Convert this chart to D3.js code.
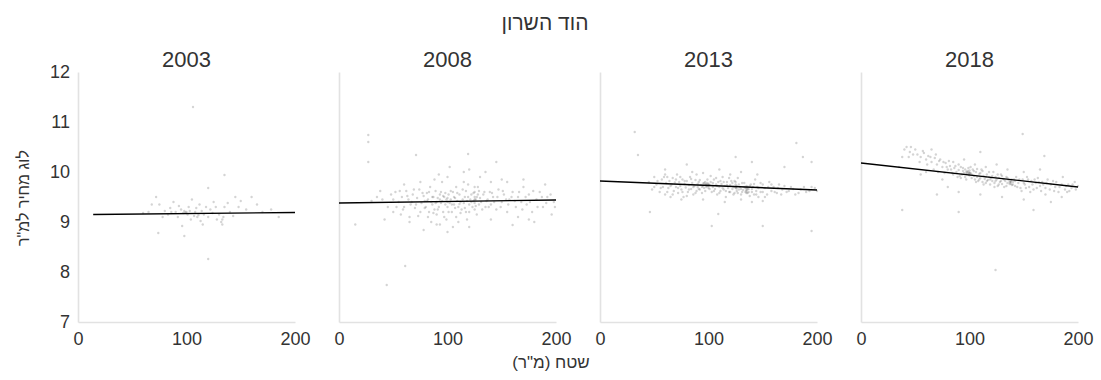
<!DOCTYPE html>
<html><head><meta charset="utf-8">
<script src="https://cdn.jsdelivr.net/npm/d3@7"></script>
<style>
body{margin:0;background:#fff;}
text{font-family:"Liberation Sans",Arial,sans-serif;fill:#333;}
</style></head>
<body><svg id="chart" width="1101" height="380"></svg>
<script>
const mainTitle = "הוד השרון";
const xLabel = "שטח (מ\"ר)";
const yLabel = "לוג מחיר למ\"ר";
const years = ["2003","2008","2013","2018"];
const xTicks = [0,100,200];
const yTicks = [7,8,9,10,11,12];
// regression line endpoints [x0,y0,x1,y1]
const fitLines = [
  [14,9.15,200,9.19],
  [0,9.38,200,9.44],
  [0,9.82,200,9.64],
  [0,10.18,200,9.70]
];
const pts2003 = [[74,8.78],[106,11.3],[120,8.26],[135,9.94],[120,9.68],[72,9.5],[75,9.35],[80,9.22],[83,9.15],[85,9.28],[88,9.4],[90,9.2],[92,9.1],[95,9.25],[97,9.18],[98,9.22],[99,9.19],[100,9.2],[101,9.15],[102,9.3],[104,9.05],[105,9.45],[107,9.12],[108,9.2],[110,9.1],[111,9.14],[112,9.35],[113,9.02],[114,9.22],[115,8.95],[118,9.3],[120,9.1],[122,9.25],[125,9.4],[128,9.05],[130,9.15],[132,9.0],[133,8.95],[133,9.05],[135,9.3],[140,9.2],[145,9.5],[150,9.42],[155,9.25],[160,9.5],[170,9.2],[185,9.1],[65,9.2],[60,9.18],[96,8.92],[98,8.72],
[68,9.35],[78,9.1],[86,9.2],[93,9.32],[103,9.22],[109,9.28],[116,9.15],[124,9.18],[127,9.3],[134,9.1],[138,9.38],[143,9.12],[148,9.3],[165,9.35],[178,9.25]];
const pts2008 = [[27,10.74],[27,10.6],[27,10.2],[15,8.95],[44,7.74],[35,9.5],[40,9.45],[45,9.3],[48,9.55],[30,9.42],[50,9.2],[42,9.05],[38,9.62],
[55,9.4],[58,9.5],[60,9.3],[61,8.12],[62,9.62],[64,9.45],[66,9.35],[68,9.55],[70,9.28],[71,10.34],[72,9.48],[74,9.65],[75,9.2],[76,9.38],[78,8.84],[78,9.52],[79,9.42],[52,9.6],[57,9.15],[65,9.1],
[80,9.3],[81,9.58],[82,9.45],[83,9.2],[84,9.7],[85,9.4],[86,9.35],[87,9.5],[88,9.25],[89,9.62],[90,9.4],[90,9.15],[91,9.48],[92,9.3],[93,9.55],[94,9.38],[95,9.42],[95,9.8],[96,9.2],[97,9.5],[98,9.35],[99,9.45],[99,9.05],[85,9.0],[88,9.85],[92,9.95],[97,9.1],[93,8.95],[82,9.1],
[100,9.4],[100,9.3],[101,9.55],[102,9.38],[103,9.45],[104,9.2],[105,9.6],[106,9.35],[107,9.48],[108,9.1],[109,9.42],[110,9.3],[111,9.55],[112,9.4],[113,9.25],[114,9.65],[115,9.38],[116,9.5],[117,9.2],[118,9.42],[119,9.75],[120,9.35],[121,9.45],[122,9.55],[123,9.3],[124,9.42],[125,9.6],[125,9.5],[125,9.38],[125,9.25],[126,9.45],[127,9.15],[128,9.55],[129,9.35],[119,10.36],[110,9.0],[105,8.9],[115,9.8],[108,9.7],[102,10.1],[118,9.05],[128,9.7],
[131,9.4],[133,9.55],[135,9.3],[137,9.45],[139,9.6],[140,9.35],[142,9.5],[145,9.25],[147,9.65],[150,9.4],[152,9.55],[155,9.2],[157,9.45],[160,9.6],[160,8.94],[163,9.3],[165,9.5],[168,9.4],[170,9.7],[173,9.35],[175,9.55],[178,9.2],[182,9.45],[185,9.6],[188,9.3],[192,9.5],[196,9.15],[198,9.4],[140,9.8],[150,9.85],[145,10.2],[135,10.0],[165,9.1],[180,9.0],
[50,9.45],[53,9.3],[56,9.62],[59,9.25],[63,9.52],[67,9.4],[69,9.65],[71,9.35],[73,9.12],[77,9.58],[79,9.28],[81,9.42],[83,9.6],[86,9.5],[87,9.18],[89,9.38],[91,9.25],[93,9.45],[94,9.6],[96,9.52],[98,9.58],[100,9.48],[101,9.2],[103,9.62],[104,9.35],[106,9.5],[107,9.28],[109,9.58],[111,9.36],[112,9.18],[114,9.45],[116,9.28],[117,9.62],[119,9.5],[120,9.2],[122,9.4],[124,9.58],[125,9.45],[125,9.7],[126,9.32],[127,9.5],[129,9.62],[130,9.48],[132,9.25],[134,9.6],[136,9.42],[138,9.3],[141,9.58],[143,9.4],[146,9.5],[149,9.3],[151,9.62],[154,9.45],[156,9.35],[159,9.5],[162,9.42],[166,9.6],[169,9.25],[172,9.5],[176,9.4],[179,9.62],[183,9.3],[187,9.5],[191,9.38],[195,9.55],[199,9.3],[60,9.75],[75,9.8],[100,9.9],[115,10.0],[130,9.9],[155,9.8],[170,9.85],[190,9.75],[120,10.05],[65,9.0],[90,8.95],[120,8.9],[140,9.05],[175,9.05],[100,8.8]];
const pts2013 = [[32,10.8],[35,10.34],[125,10.3],[181,10.58],[187,10.3],[195,10.2],[46,9.2],[103,8.92],[150,8.92],[195,8.82],[109,9.16],[60,10.05],[170,10.1],[140,10.2],[80,10.15],
[45,9.8],[48,9.65],[50,9.9],[52,9.75],[55,9.6],[57,9.85],[58,9.7],[60,9.55],[61,9.78],[62,9.9],[63,9.68],[64,9.82],[65,9.5],[66,9.75],[67,9.88],[68,9.62],[69,9.79],[70,9.7],[71,9.95],[72,9.58],[73,9.8],[74,9.72],[75,9.65],[76,9.85],[77,9.5],[78,9.76],[79,9.69],[80,9.82],[81,9.6],[82,9.74],[83,9.9],[84,9.66],[85,9.78],[86,9.55],[87,9.72],[88,9.84],[89,9.62],[90,9.76],[90,9.7],[91,9.8],[92,9.65],[93,9.74],[94,9.58],[95,9.77],[95,9.72],[96,9.68],[97,9.8],[97,9.75],[98,9.7],[98,9.76],[99,9.73],[99,9.78],[100,9.72],[100,9.76],[100,9.68],[101,9.74],[102,9.8],[103,9.6],[104,9.7],[105,9.85],[106,9.66],[107,9.75],[108,9.55],[109,9.8],[110,9.7],[111,9.62],[112,9.76],[113,9.9],[114,9.65],[115,9.72],[116,9.5],[117,9.8],[118,9.68],[119,9.6],[120,9.74],[121,9.82],[122,9.66],[123,9.7],[124,9.58],[125,9.75],[125,9.68],[125,9.8],[126,9.72],[126,9.62],[127,9.88],[128,9.65],[129,9.7],[130,9.55],[131,9.78],[132,9.64],[133,9.7],[134,9.6],[135,9.68],[135,9.62],[135,9.72],[136,9.58],[137,9.66],[138,9.52],[139,9.75],[140,9.6],[141,9.7],[142,9.55],[143,9.85],[144,9.62],[145,9.7],[146,9.5],[148,9.78],[150,9.6],[152,9.68],[154,9.55],[156,9.8],[158,9.62],[160,9.7],[163,9.58],[165,9.75],[168,9.65],[172,9.6],[176,9.7],[180,9.55],[185,9.65],[190,9.6],[195,9.7],[200,9.62],[60,9.95],[85,10.0],[95,9.98],[110,10.05],[120,9.95],[130,10.0],[145,9.95],[75,9.45],[95,9.45],[115,9.4],[130,9.45],[140,9.4],[150,9.42],
[50,9.7],[53,9.82],[56,9.68],[59,9.9],[62,9.6],[65,9.72],[67,9.55],[70,9.85],[72,9.68],[74,9.9],[76,9.6],[78,9.82],[80,9.52],[82,9.65],[84,9.86],[86,9.7],[88,9.58],[89,9.95],[91,9.66],[92,9.84],[94,9.7],[96,9.78],[97,9.62],[99,9.85],[101,9.66],[102,9.92],[104,9.78],[105,9.62],[107,9.88],[108,9.72],[110,9.58],[111,9.82],[113,9.68],[114,9.8],[116,9.62],[117,9.74],[119,9.88],[120,9.6],[122,9.78],[123,9.55],[124,9.82],[126,9.67],[127,9.58],[128,9.75],[130,9.66],[131,9.6],[133,9.78],[134,9.68],[135,9.58],[136,9.7],[137,9.6],[138,9.72],[140,9.66],[142,9.76],[144,9.55],[146,9.68],[148,9.6],[150,9.75],[152,9.5],[155,9.7],[158,9.75],[161,9.6],[164,9.68],[167,9.55],[170,9.72],[174,9.62],[178,9.66],[183,9.58],[188,9.7],[193,9.62],[198,9.68],[135,9.64],[125,9.7],[100,9.74],[98,9.73],[136,9.66]];
const pts2018 = [[149,10.76],[169,10.32],[110,10.4],[124,8.04],[38,9.24],[90,9.2],[159,9.24],[38,10.3],
[40,10.45],[42,10.5],[45,10.4],[48,10.35],[50,10.45],[55,10.3],[58,10.38],[60,10.25],[62,10.32],[65,10.2],[68,10.28],[70,10.15],[72,10.22],[75,10.1],[78,10.18],[80,10.05],[82,10.12],[84,9.98],[86,10.08],[88,10.0],[90,10.04],[91,9.92],[92,10.1],[93,9.95],[94,10.02],[95,9.98],[96,9.9],[97,10.0],[97,9.96],[98,9.98],[98,10.02],[99,9.95],[99,10.0],[100,9.97],[100,10.03],[100,9.93],[101,9.98],[102,9.88],[103,10.05],[104,9.92],[105,9.85],[106,10.0],[107,9.9],[108,9.82],[109,9.96],[110,9.88],[111,10.05],[112,9.8],[113,9.92],[114,9.86],[115,9.78],[116,9.95],[117,9.84],[118,9.9],[119,9.75],[120,9.88],[121,9.82],[122,10.0],[123,9.78],[124,9.9],[125,9.85],[126,9.72],[127,9.88],[128,9.8],[129,9.95],[130,9.76],[131,9.86],[132,9.7],[133,9.82],[134,9.9],[135,9.78],[136,9.84],[137,9.8],[138,9.77],[138,9.82],[139,9.74],[140,9.8],[141,9.85],[142,9.72],[143,9.9],[145,9.78],[147,9.68],[149,9.85],[151,9.75],[153,9.9],[155,9.7],[157,9.82],[159,9.65],[161,9.78],[163,9.88],[165,9.72],[167,9.8],[170,9.68],[172,9.85],[175,9.75],[178,9.62],[180,9.8],[183,9.7],[186,9.9],[188,9.65],[191,9.75],[194,9.68],[197,9.8],[75,9.85],[80,9.7],[85,10.2],[95,10.25],[105,10.15],[115,10.1],[125,10.15],[135,10.05],[150,10.0],[165,10.05],[70,9.55],[90,9.6],[110,9.55],[130,9.5],[150,9.45],[175,9.4],[185,9.5],[60,10.0],[65,10.45],[55,9.95],[170,9.55],[190,9.6],
[35,10.1],[44,10.3],[46,10.5],[52,10.35],[54,10.2],[57,10.42],[61,10.15],[64,10.3],[67,10.05],[69,10.35],[71,10.0],[73,10.25],[76,10.2],[77,9.98],[79,10.1],[81,10.22],[83,10.05],[85,9.95],[87,10.12],[89,9.9],[90,10.15],[92,9.88],[94,10.08],[96,10.05],[97,9.85],[99,10.08],[100,9.98],[101,10.1],[102,9.95],[104,10.02],[106,9.8],[107,10.06],[109,9.85],[110,9.98],[112,10.02],[113,9.75],[115,9.9],[116,9.82],[118,10.0],[119,9.85],[121,9.92],[123,9.7],[124,9.82],[126,9.95],[127,9.75],[129,9.82],[130,9.92],[132,9.85],[134,9.72],[135,9.88],[137,9.76],[138,9.8],[139,9.85],[140,9.75],[142,9.82],[144,9.7],[146,9.85],[148,9.62],[150,9.78],[152,9.68],[154,9.85],[156,9.6],[158,9.75],[160,9.85],[162,9.68],[164,9.8],[166,9.62],[168,9.75],[171,9.78],[174,9.65],[177,9.82],[179,9.7],[182,9.6],[185,9.75],[189,9.72],[192,9.62],[195,9.75],[198,9.65],[200,9.72]];
const panelPoints = [pts2003, pts2008, pts2013, pts2018];

const svg = d3.select("#chart");
const plotTop = 72, plotBottom = 322;
const band = d3.scaleBand().domain(years).range([78,1078]).paddingInner(44/261).paddingOuter(0);
const y = d3.scaleLinear().domain([7,12]).range([plotBottom, plotTop]);

svg.append("text").attr("x",545).attr("y",30).attr("text-anchor","middle")
  .attr("direction","rtl").style("font-size","21px").text(mainTitle);
svg.append("text").attr("x",551).attr("y",368).attr("text-anchor","middle")
  .attr("direction","rtl").style("font-size","17px").text(xLabel);
svg.append("text").attr("transform","translate(29,198) rotate(-90)").attr("text-anchor","middle")
  .attr("direction","rtl").style("font-size","16px").text(yLabel);

years.forEach((yr,i)=>{
  const x0 = band(yr);
  const x = d3.scaleLinear().domain([0,200]).range([x0, x0+band.bandwidth()]);
  const g = svg.append("g");
  g.append("text").attr("x",x(100)).attr("y",67).attr("text-anchor","middle")
    .style("font-size","22px").text(yr);
  const ya = d3.axisLeft(y).tickValues(yTicks).tickSize(0).tickSizeOuter(0).tickPadding(8)
    .tickFormat(i===0 ? d3.format("d") : ()=>"");
  const yg = g.append("g").attr("transform",`translate(${x0},0)`).call(ya);
  const xa = d3.axisBottom(x).tickValues(xTicks).tickSize(0).tickSizeOuter(0).tickPadding(10);
  const xg = g.append("g").attr("transform",`translate(0,${plotBottom})`).call(xa);
  [yg,xg].forEach(a=>{
    a.select(".domain").attr("stroke","#e2e2e2").attr("stroke-width",1.6);
    a.selectAll("text").style("font-size","18px").style("font-family","Liberation Sans, Arial, sans-serif").attr("fill","#333");
  });
  g.append("g").selectAll("circle").data(panelPoints[i]).join("circle")
    .attr("cx",d=>x(d[0])).attr("cy",d=>y(d[1])).attr("r",1.2)
    .attr("fill","#000").attr("fill-opacity",0.17);
  const f = fitLines[i];
  g.append("line").attr("x1",x(f[0])).attr("y1",y(f[1])).attr("x2",x(f[2])).attr("y2",y(f[3]))
    .attr("stroke","#000").attr("stroke-width",1.4);
});
</script></body></html>
